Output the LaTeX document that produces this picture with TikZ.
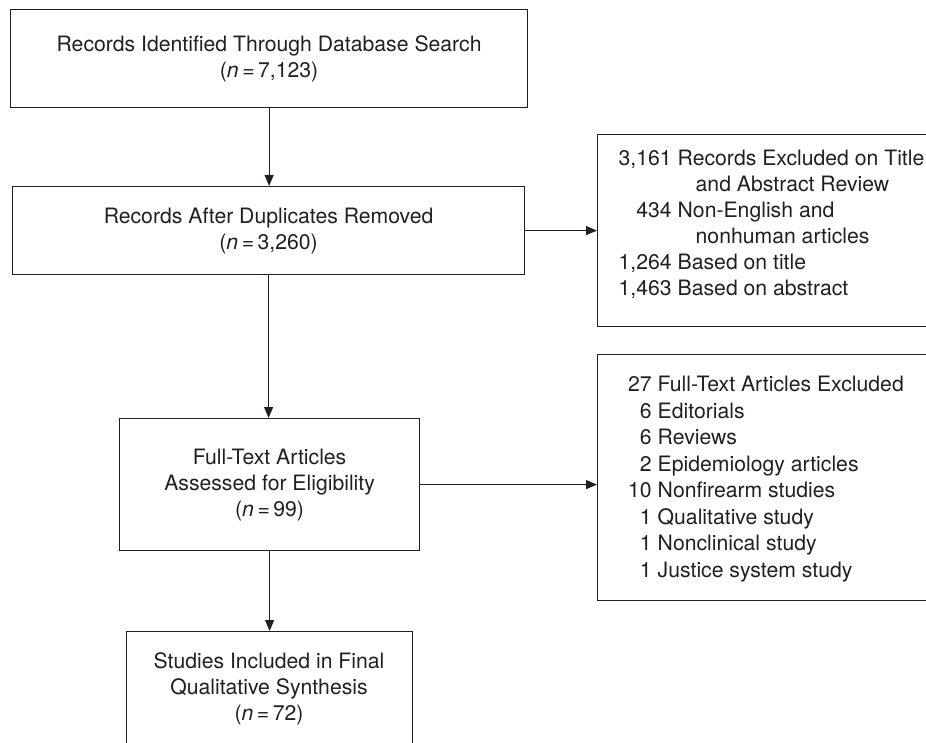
\documentclass[tikz,border=0pt]{standalone}
\usepackage{fontspec}
\setmainfont{TeX Gyre Heros}
\usetikzlibrary{arrows.meta}
\definecolor{ink}{RGB}{35,31,32}
\begin{document}
\begin{tikzpicture}[x=1pt,y=-1pt,
  box/.style={draw=ink, line width=1.2pt, rectangle, inner sep=0pt, anchor=north west},
  lbl/.style={text=ink, font=\fontsize{21.2}{26}\selectfont, align=center, inner sep=0pt},
  lst/.style={text=ink, font=\fontsize{21.2}{26}\selectfont, inner sep=0pt, anchor=west},
  arr/.style={draw=ink, line width=1.2pt, -{Triangle[length=11pt,width=9pt]}}
]
\useasboundingbox (0,0) rectangle (926,743);
\clip (0,0) rectangle (926,743);
% left column
\node[box, minimum width=517pt, minimum height=98pt] (b1) at (10,9) {};
\node[lbl] (t1) at (b1.center) {Records Identified Through Database Search\\(\textit{n}\,=\,7,123)};
\node[box, minimum width=512pt, minimum height=88pt] (b2) at (12,186) {};
\node[lbl] (t2) at (b2.center) {Records After Duplicates Removed\\(\textit{n}\,=\,3,260)};
\node[box, minimum width=300pt, minimum height=132pt] (b3) at (119,418) {};
\node[lbl] (t3) at (b3.center) {Full-Text Articles\\Assessed for Eligibility\\(\textit{n}\,=\,99)};
\node[box, minimum width=286pt, minimum height=124pt] (b4) at (126,631) {};
\node[lbl] (t4) at (269,689) {Studies Included in Final\\Qualitative Synthesis\\(\textit{n}\,=\,72)};
% right column
\node[box, minimum width=360pt, minimum height=192pt] (r1) at (597,134) {};
\node[lst] (rt1) at (618.5,225.5) {\begin{tabular}{@{}r@{\hspace{0.28em}}l@{}}
3,161 & Records Excluded on Title\\
 & \hspace{18pt}and Abstract Review\\
434 & Non-English and\\
 & \hspace{18pt}nonhuman articles\\
1,264 & Based on title\\
1,463 & Based on abstract
\end{tabular}};
\node[box, minimum width=360pt, minimum height=246pt] (r2) at (597,354) {};
\node[lst, font=\fontsize{21.2}{26.5}\selectfont] (rt2) at (628,479) {\begin{tabular}{@{}r@{\hspace{0.28em}}l@{}}
27 & Full-Text Articles Excluded\\
6 & Editorials\\
6 & Reviews\\
2 & Epidemiology articles\\
10 & Nonfirearm studies\\
1 & Qualitative study\\
1 & Nonclinical study\\
1 & Justice system study
\end{tabular}};
% connectors
\draw[arr] (b1.south) -- (b1.south |- b2.north);
\draw[arr] (b2.south) -- (b2.south |- b3.north);
\draw[arr] (b3.south) -- (b3.south |- b4.north);
\draw[arr] (b2.east) -- (b2.east -| r1.west);
\draw[arr] (b3.east) -- (b3.east -| r2.west);
\end{tikzpicture}
\end{document}
